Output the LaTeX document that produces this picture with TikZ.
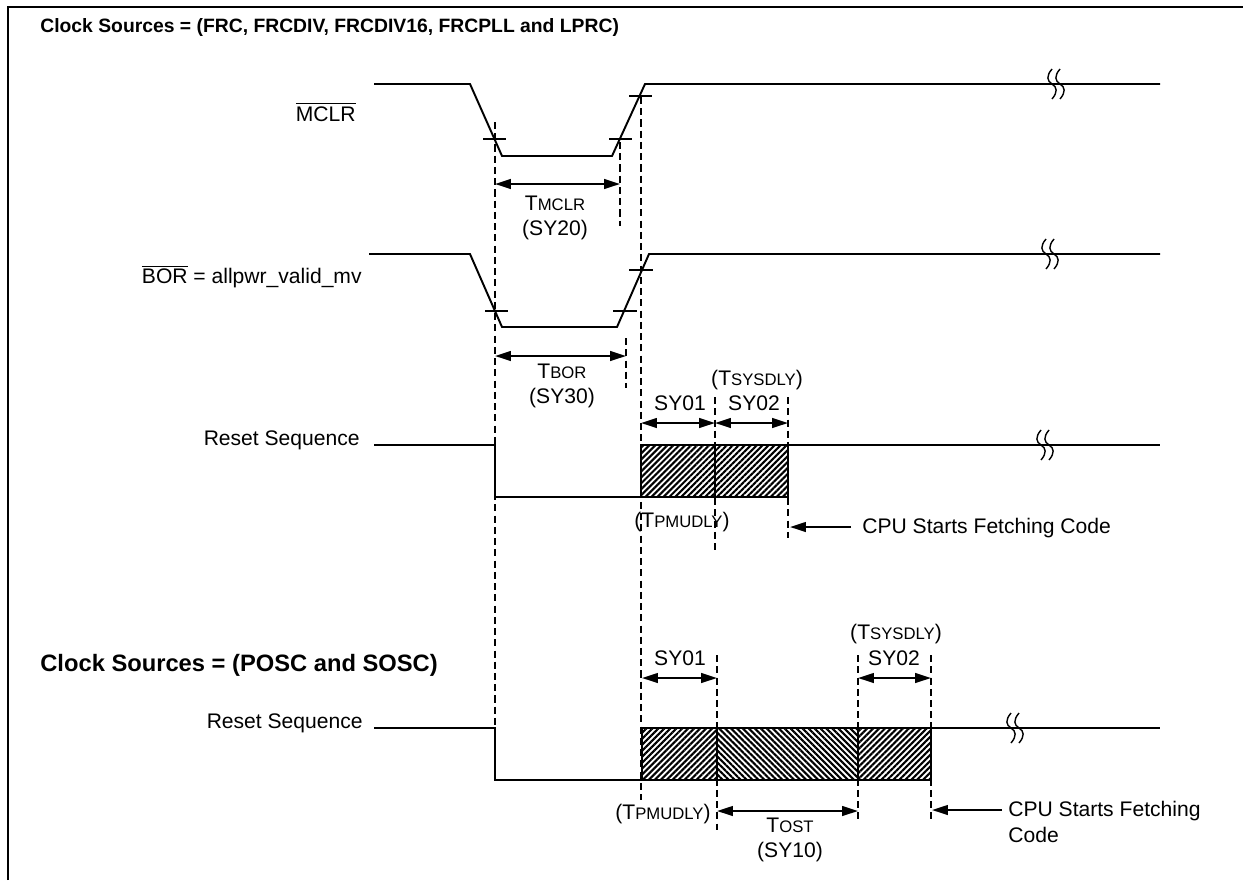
\documentclass[tikz,border=0pt]{standalone}
\usepackage{fontspec}
\setmainfont{Liberation Sans}
\usetikzlibrary{arrows.meta,patterns.meta}

\tikzset{
  sig/.style={line width=1.1pt, line join=miter},
  guide/.style={line width=1pt, dash pattern=on 4pt off 2.4pt},
  tickmark/.style={line width=1pt},
  dimarrow/.style={line width=1.1pt, {Triangle[length=9pt,width=5.5pt]}-{Triangle[length=9pt,width=5.5pt]}},
  notearrow/.style={line width=1.1pt, -{Triangle[length=9pt,width=5.5pt]}},
  lbl/.style={font=\fontsize{12}{14.5}\selectfont, inner sep=0pt},
  hd/.style={font=\fontsize{13.5}{16}\selectfont\bfseries, anchor=west, inner sep=0pt},
  hatchA/.style={pattern={Lines[angle=45,distance=2.4pt,line width=1.2pt]}},
  hatchB/.style={pattern={Lines[angle=-45,distance=2.4pt,line width=1.2pt]}},
}
\newcommand{\tsc}[1]{T{\fontsize{9.5}{11}\selectfont #1}}
% break mark: two wavy strokes across a level
\newcommand{\sigbreak}[1]{%
  \foreach \dx in {-4,4}
    \draw[line width=0.8pt, shift={(#1)}, xshift=\dx*0.02cm]
      (0,-15) .. controls (-6,-8) and (-5,-3) .. (0,0) .. controls (5,3) and (6,8) .. (0,15);}

\begin{document}
\begin{tikzpicture}[x=0.02cm, y=-0.02cm]
  \useasboundingbox (0,0) rectangle (1243,880);

  % Frame
  \draw[line width=1.4pt] (8,880) -- (8,7) -- (1243,7);
  \node[hd, font=\fontsize{11}{13}\selectfont\bfseries] (head1) at (40,27) {Clock Sources = (FRC, FRCDIV, FRCDIV16, FRCPLL and LPRC)};

  % MCLR signal
  \node[lbl, anchor=east] (mclr) at (356,112) {$\overline{\mbox{MCLR}}$};
  \draw[sig] (374,84) -- (470,84) -- (502,156) -- (612,156) -- (645,84) -- (1160,84);
  \sigbreak{1056,84}
  \draw[tickmark] (483,139) -- (506,139);
  \draw[tickmark] (609,139) -- (632,139);
  \draw[tickmark] (629,96) -- (652,96);

  % BOR signal
  \node[lbl, anchor=east] (bor) at (362,277) {$\overline{\mbox{BOR}}$ = allpwr\_valid\_mv};
  \draw[sig] (369,254) -- (470,254) -- (502,327) -- (617,327) -- (649,254) -- (1160,254);
  \sigbreak{1050,254}
  \draw[tickmark] (485,311) -- (508,311);
  \draw[tickmark] (613,311) -- (637,311);
  \draw[tickmark] (629,270) -- (653,270);

  % Guide lines
  \draw[guide] (495,122) -- (495,726);
  \draw[guide] (620,142) -- (620,226);
  \draw[guide] (641,97) -- (641,800);
  \draw[guide] (626,338) -- (626,388);
  \draw[guide] (715,397) -- (715,553);
  \draw[guide] (788,397) -- (788,538);
  \draw[guide] (717,655) -- (717,830);
  \draw[guide] (858,655) -- (858,823);
  \draw[guide] (931,655) -- (931,823);

  % TMCLR / TBOR
  \coordinate (mclrA) at (495,184);
  \coordinate (mclrB) at (620,184);
  \draw[dimarrow] (mclrA) -- (mclrB);
  \node[lbl, align=center] (tmclr) at (555,218) {\tsc{MCLR}\\(SY20)};
  \coordinate (borA) at (495,356);
  \coordinate (borB) at (626,356);
  \draw[dimarrow] (borA) -- (borB);
  \node[lbl, align=center] (tbor) at (562,386) {\tsc{BOR}\\(SY30)};

  % Reset sequence, upper
  \node[lbl, anchor=east] (rst1) at (360,440) {Reset Sequence};
  \draw[sig] (374,445) -- (495,445) -- (495,497) -- (641,497);
  \draw[sig, hatchA] (641,445) rectangle (715,497);
  \draw[sig, hatchA] (715,445) rectangle (788,497);
  \draw[sig] (788,445) -- (1160,445);
  \sigbreak{1045,445}
  \coordinate (u1) at (641,423);
  \coordinate (u2) at (715,423);
  \coordinate (u3) at (788,423);
  \draw[dimarrow] (u1) -- (u2);
  \draw[dimarrow] (u2) -- (u3);
  \node[lbl] (sy01a) at (680,403) {SY01};
  \node[lbl] (sy02a) at (754,403) {SY02};
  \node[lbl] (sysa) at (757,380) {(\tsc{SYSDLY})};
  \node[lbl] (pmua) at (682,522) {(\tsc{PMUDLY})};
  \coordinate (cpu1) at (790,527);
  \node[lbl, anchor=west] (fetch1) at (862,528) {CPU Starts Fetching Code};
  \draw[notearrow] (851,527) -- (cpu1);

  % Reset sequence, lower
  \node[hd] (head2) at (40,665) {Clock Sources = (POSC and SOSC)};
  \node[lbl, anchor=east] (rst2) at (363,723) {Reset Sequence};
  \draw[sig] (374,728) -- (495,728) -- (495,780) -- (642,780);
  \draw[sig, hatchA] (642,728) rectangle (717,780);
  \draw[sig, hatchB] (717,728) rectangle (858,780);
  \draw[sig, hatchA] (858,728) rectangle (931,780);
  \draw[sig] (931,728) -- (1160,728);
  \sigbreak{1015,728}
  \coordinate (l1) at (642,678);
  \coordinate (l2) at (717,678);
  \coordinate (l3) at (858,678);
  \coordinate (l4) at (931,678);
  \draw[dimarrow] (l1) -- (l2);
  \draw[dimarrow] (l3) -- (l4);
  \node[lbl] (sy01b) at (680,658) {SY01};
  \node[lbl] (sy02b) at (894,658) {SY02};
  \node[lbl] (sysb) at (896,634) {(\tsc{SYSDLY})};
  \node[lbl] (pmub) at (663,814) {(\tsc{PMUDLY})};
  \coordinate (ost1) at (717,811);
  \coordinate (ost2) at (858,811);
  \draw[dimarrow] (ost1) -- (ost2);
  \node[lbl, align=center] (tost) at (790,840) {\tsc{OST}\\(SY10)};
  \coordinate (cpu2) at (932,810);
  \node[lbl, anchor=north west, align=left] (fetch2) at (1008,801) {CPU Starts Fetching\\Code};
  \draw[notearrow] (1002,810) -- (cpu2);
\end{tikzpicture}
\end{document}
